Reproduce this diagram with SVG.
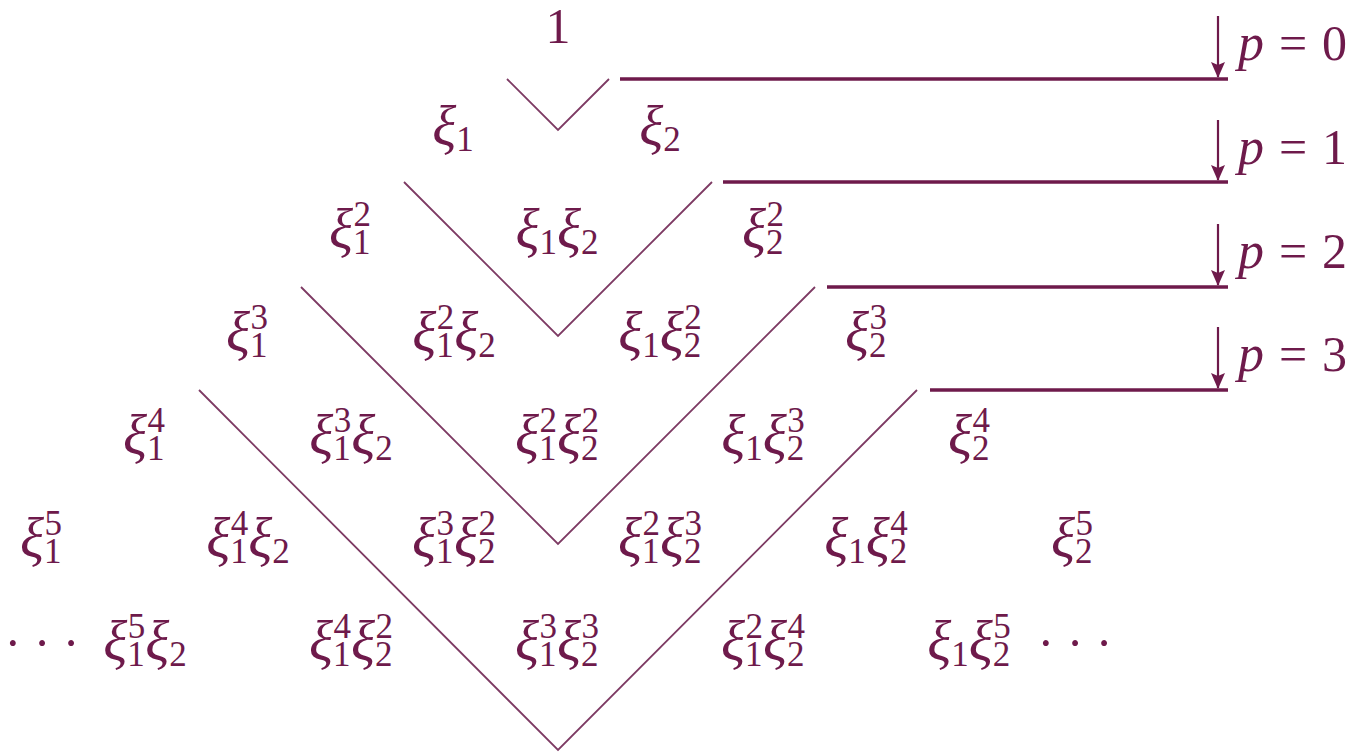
<svg xmlns="http://www.w3.org/2000/svg" width="1368" height="754" viewBox="0 0 1368 754">
<defs>
<marker id="ah" markerUnits="userSpaceOnUse" markerWidth="14" markerHeight="16" viewBox="0 0 14 16" refX="7" refY="15" orient="0">
<path d="M0,0 L7,3 L14,0 L7,16 Z" fill="#6e1a4b"/>
</marker>
</defs>
<rect width="1368" height="754" fill="#ffffff"/>
<g id="connectors">
<g fill="none" stroke="#7d3a63" stroke-width="1.8">
<polyline points="507,79 558,130 609,79"/>
<polyline points="404,182 558,336 712,182"/>
<polyline points="301,287 558,544 815,287"/>
<polyline points="199,390 558,750 917,390"/>
</g>
<g stroke="#6e1a4b" stroke-width="3.5">
<line x1="620" y1="79" x2="1228" y2="79"/>
<line x1="723" y1="182" x2="1228" y2="182"/>
<line x1="827" y1="287" x2="1228" y2="287"/>
<line x1="930" y1="390" x2="1228" y2="390"/>
</g>
<g stroke="#6e1a4b" stroke-width="2.2" marker-end="url(#ah)">
<line x1="1218" y1="16" x2="1218" y2="77"/>
<line x1="1218" y1="120" x2="1218" y2="180"/>
<line x1="1218" y1="224" x2="1218" y2="285"/>
<line x1="1218" y1="327" x2="1218" y2="388"/>
</g>
</g>
<g id="labels" fill="#6e1a4b">
<text id="p0" font-family="Liberation Serif" font-size="50" y="60"><tspan font-style="italic" font-size="52" x="1238">p</tspan><tspan x="1279">=</tspan><tspan x="1322">0</tspan></text>
<text id="p1" font-family="Liberation Serif" font-size="50" y="164"><tspan font-style="italic" font-size="52" x="1238">p</tspan><tspan x="1279">=</tspan><tspan x="1322">1</tspan></text>
<text id="p2" font-family="Liberation Serif" font-size="50" y="268"><tspan font-style="italic" font-size="52" x="1238">p</tspan><tspan x="1279">=</tspan><tspan x="1322">2</tspan></text>
<text id="p3" font-family="Liberation Serif" font-size="50" y="371"><tspan font-style="italic" font-size="52" x="1238">p</tspan><tspan x="1279">=</tspan><tspan x="1322">3</tspan></text>
</g>
<g id="row0" fill="#6e1a4b" text-anchor="middle"><text font-family="Liberation Serif" font-size="50" x="558" y="43">1</text></g>
<g id="row1" fill="#6e1a4b" text-anchor="middle">
<text font-family="Liberation Serif" font-size="50" x="453" y="145"><tspan font-style="italic" font-size="56">ξ</tspan><tspan font-size="35" dy="6">1</tspan></text>
<text font-family="Liberation Serif" font-size="50" x="660" y="145"><tspan font-style="italic" font-size="56">ξ</tspan><tspan font-size="35" dy="6">2</tspan></text>
</g>
<g id="row2" fill="#6e1a4b" text-anchor="middle">
<text font-family="Liberation Serif" font-size="50" x="350" y="248"><tspan font-style="italic" font-size="56">ξ</tspan><tspan font-size="35" dy="6">1</tspan><tspan font-size="35" dx="-17" dy="-28">2</tspan></text>
<text font-family="Liberation Serif" font-size="50" x="557" y="248"><tspan font-style="italic" font-size="56">ξ</tspan><tspan font-size="35" dy="6">1</tspan><tspan font-style="italic" font-size="56" dy="-6">ξ</tspan><tspan font-size="35" dy="6">2</tspan></text>
<text font-family="Liberation Serif" font-size="50" x="763" y="248"><tspan font-style="italic" font-size="56">ξ</tspan><tspan font-size="35" dy="6">2</tspan><tspan font-size="35" dx="-17" dy="-28">2</tspan></text>
</g>
<g id="row3" fill="#6e1a4b" text-anchor="middle">
<text font-family="Liberation Serif" font-size="50" x="247" y="351"><tspan font-style="italic" font-size="56">ξ</tspan><tspan font-size="35" dy="6">1</tspan><tspan font-size="35" dx="-17" dy="-28">3</tspan></text>
<text font-family="Liberation Serif" font-size="50" x="454" y="351"><tspan font-style="italic" font-size="56">ξ</tspan><tspan font-size="35" dy="6">1</tspan><tspan font-size="35" dx="-17" dy="-28">2</tspan><tspan font-style="italic" font-size="56" dy="22">ξ</tspan><tspan font-size="35" dy="6">2</tspan></text>
<text font-family="Liberation Serif" font-size="50" x="660" y="351"><tspan font-style="italic" font-size="56">ξ</tspan><tspan font-size="35" dy="6">1</tspan><tspan font-style="italic" font-size="56" dy="-6">ξ</tspan><tspan font-size="35" dy="6">2</tspan><tspan font-size="35" dx="-17" dy="-28">2</tspan></text>
<text font-family="Liberation Serif" font-size="50" x="866" y="351"><tspan font-style="italic" font-size="56">ξ</tspan><tspan font-size="35" dy="6">2</tspan><tspan font-size="35" dx="-17" dy="-28">3</tspan></text>
</g>
<g id="row4" fill="#6e1a4b" text-anchor="middle">
<text font-family="Liberation Serif" font-size="50" x="144" y="454"><tspan font-style="italic" font-size="56">ξ</tspan><tspan font-size="35" dy="6">1</tspan><tspan font-size="35" dx="-17" dy="-28">4</tspan></text>
<text font-family="Liberation Serif" font-size="50" x="351" y="454"><tspan font-style="italic" font-size="56">ξ</tspan><tspan font-size="35" dy="6">1</tspan><tspan font-size="35" dx="-17" dy="-28">3</tspan><tspan font-style="italic" font-size="56" dy="22">ξ</tspan><tspan font-size="35" dy="6">2</tspan></text>
<text font-family="Liberation Serif" font-size="50" x="557" y="454"><tspan font-style="italic" font-size="56">ξ</tspan><tspan font-size="35" dy="6">1</tspan><tspan font-size="35" dx="-17" dy="-28">2</tspan><tspan font-style="italic" font-size="56" dy="22">ξ</tspan><tspan font-size="35" dy="6">2</tspan><tspan font-size="35" dx="-17" dy="-28">2</tspan></text>
<text font-family="Liberation Serif" font-size="50" x="763" y="454"><tspan font-style="italic" font-size="56">ξ</tspan><tspan font-size="35" dy="6">1</tspan><tspan font-style="italic" font-size="56" dy="-6">ξ</tspan><tspan font-size="35" dy="6">2</tspan><tspan font-size="35" dx="-17" dy="-28">3</tspan></text>
<text font-family="Liberation Serif" font-size="50" x="969" y="454"><tspan font-style="italic" font-size="56">ξ</tspan><tspan font-size="35" dy="6">2</tspan><tspan font-size="35" dx="-17" dy="-28">4</tspan></text>
</g>
<g id="row5" fill="#6e1a4b" text-anchor="middle">
<text font-family="Liberation Serif" font-size="50" x="41" y="557"><tspan font-style="italic" font-size="56">ξ</tspan><tspan font-size="35" dy="6">1</tspan><tspan font-size="35" dx="-17" dy="-28">5</tspan></text>
<text font-family="Liberation Serif" font-size="50" x="248" y="557"><tspan font-style="italic" font-size="56">ξ</tspan><tspan font-size="35" dy="6">1</tspan><tspan font-size="35" dx="-17" dy="-28">4</tspan><tspan font-style="italic" font-size="56" dy="22">ξ</tspan><tspan font-size="35" dy="6">2</tspan></text>
<text font-family="Liberation Serif" font-size="50" x="454" y="557"><tspan font-style="italic" font-size="56">ξ</tspan><tspan font-size="35" dy="6">1</tspan><tspan font-size="35" dx="-17" dy="-28">3</tspan><tspan font-style="italic" font-size="56" dy="22">ξ</tspan><tspan font-size="35" dy="6">2</tspan><tspan font-size="35" dx="-17" dy="-28">2</tspan></text>
<text font-family="Liberation Serif" font-size="50" x="660" y="557"><tspan font-style="italic" font-size="56">ξ</tspan><tspan font-size="35" dy="6">1</tspan><tspan font-size="35" dx="-17" dy="-28">2</tspan><tspan font-style="italic" font-size="56" dy="22">ξ</tspan><tspan font-size="35" dy="6">2</tspan><tspan font-size="35" dx="-17" dy="-28">3</tspan></text>
<text font-family="Liberation Serif" font-size="50" x="866" y="557"><tspan font-style="italic" font-size="56">ξ</tspan><tspan font-size="35" dy="6">1</tspan><tspan font-style="italic" font-size="56" dy="-6">ξ</tspan><tspan font-size="35" dy="6">2</tspan><tspan font-size="35" dx="-17" dy="-28">4</tspan></text>
<text font-family="Liberation Serif" font-size="50" x="1072" y="557"><tspan font-style="italic" font-size="56">ξ</tspan><tspan font-size="35" dy="6">2</tspan><tspan font-size="35" dx="-17" dy="-28">5</tspan></text>
</g>
<g id="row6" fill="#6e1a4b" text-anchor="middle">
<text font-family="Liberation Serif" font-size="50" x="42" y="660">· · ·</text>
<text font-family="Liberation Serif" font-size="50" x="145" y="660"><tspan font-style="italic" font-size="56">ξ</tspan><tspan font-size="35" dy="6">1</tspan><tspan font-size="35" dx="-17" dy="-28">5</tspan><tspan font-style="italic" font-size="56" dy="22">ξ</tspan><tspan font-size="35" dy="6">2</tspan></text>
<text font-family="Liberation Serif" font-size="50" x="351" y="660"><tspan font-style="italic" font-size="56">ξ</tspan><tspan font-size="35" dy="6">1</tspan><tspan font-size="35" dx="-17" dy="-28">4</tspan><tspan font-style="italic" font-size="56" dy="22">ξ</tspan><tspan font-size="35" dy="6">2</tspan><tspan font-size="35" dx="-17" dy="-28">2</tspan></text>
<text font-family="Liberation Serif" font-size="50" x="557" y="660"><tspan font-style="italic" font-size="56">ξ</tspan><tspan font-size="35" dy="6">1</tspan><tspan font-size="35" dx="-17" dy="-28">3</tspan><tspan font-style="italic" font-size="56" dy="22">ξ</tspan><tspan font-size="35" dy="6">2</tspan><tspan font-size="35" dx="-17" dy="-28">3</tspan></text>
<text font-family="Liberation Serif" font-size="50" x="763" y="660"><tspan font-style="italic" font-size="56">ξ</tspan><tspan font-size="35" dy="6">1</tspan><tspan font-size="35" dx="-17" dy="-28">2</tspan><tspan font-style="italic" font-size="56" dy="22">ξ</tspan><tspan font-size="35" dy="6">2</tspan><tspan font-size="35" dx="-17" dy="-28">4</tspan></text>
<text font-family="Liberation Serif" font-size="50" x="969" y="660"><tspan font-style="italic" font-size="56">ξ</tspan><tspan font-size="35" dy="6">1</tspan><tspan font-style="italic" font-size="56" dy="-6">ξ</tspan><tspan font-size="35" dy="6">2</tspan><tspan font-size="35" dx="-17" dy="-28">5</tspan></text>
<text font-family="Liberation Serif" font-size="50" x="1075" y="660">· · ·</text>
</g>
</svg>
